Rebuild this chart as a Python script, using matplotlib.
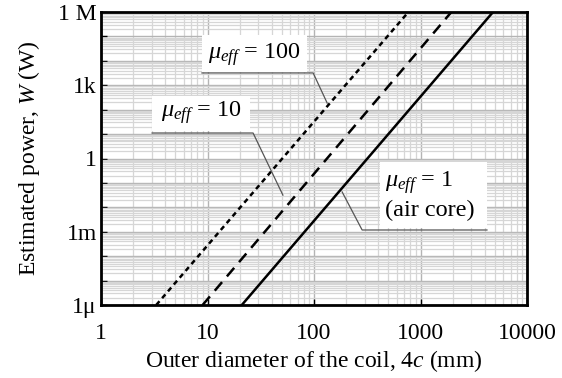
import numpy as np
import matplotlib
matplotlib.use("Agg")
import matplotlib.pyplot as plt
from matplotlib.patches import Rectangle
from matplotlib.ticker import LogLocator, FixedLocator, NullFormatter

plt.rcParams['font.family'] = ['Liberation Serif', 'DejaVu Serif']
plt.rcParams['mathtext.fontset'] = 'custom'
plt.rcParams['mathtext.rm'] = 'Liberation Serif'
plt.rcParams['mathtext.it'] = 'Liberation Serif:italic'

# power range spanned by each line (W)
power = [1e-6, 1e6]
# outer diameter (mm) where each line meets the bottom and top of the plot
d_air = [21, 4800]     # mu_eff = 1
d_mu10 = [9.0, 1950]   # mu_eff = 10
d_mu100 = [3.3, 770]   # mu_eff = 100

x_ticks = [1, 10, 100, 1000, 10000]
x_labels = ["1", "10", "100", "1000", "10000"]
y_labels = ["1\u03bc", "1m", "1", "1k", "1 M"]

fig = plt.figure(figsize=(5.62, 3.78), dpi=100)
ax = fig.add_axes([101/562, 1 - 305/378, 426/562, 293/378])

ax.set_xscale('log')
ax.set_yscale('log')
ax.set_xlim(1, 10000)
ax.set_ylim(1e-6, 1e6)

# grid: decades darker, sub-decades light
ax.xaxis.set_minor_locator(LogLocator(base=10, subs=np.arange(2, 10)))
ax.yaxis.set_minor_locator(LogLocator(base=10, subs=np.arange(2, 10), numticks=30))
ax.grid(which='major', color='#b4b4b4', lw=1.0)
ax.grid(which='minor', color='#d6d6d6', lw=0.9)
ax.set_axisbelow(True)

ax.plot(d_air, power, color='black', lw=1.8, zorder=3)
ax.plot(d_mu10, power, color='black', lw=1.8, dashes=(4.5, 3), zorder=3)
ax.plot(d_mu100, power, color='black', lw=1.8, dashes=(2, 1.6), zorder=3)

ax.set_xticks(x_ticks)
ax.set_xticklabels(x_labels)
ax.yaxis.set_major_locator(FixedLocator([10.0**k for k in range(-6, 7)]))
ax.set_yticklabels([y_labels[i // 3] if i % 3 == 0 else "" for i in range(13)])
ax.yaxis.set_minor_formatter(NullFormatter())
ax.xaxis.set_minor_formatter(NullFormatter())
ax.tick_params(which='major', direction='in', length=4, width=1, labelsize=17)
ax.tick_params(axis='x', pad=13)
ax.tick_params(axis='y', pad=3)
ax.tick_params(which='minor', length=0)

for s in ax.spines.values():
    s.set_linewidth(2)

ax.set_xlabel("Outer diameter of the coil, 4$c$ (mm)", fontsize=17, labelpad=3)
ax.set_ylabel("Estimated power, $W$ (W)", fontsize=17, labelpad=12)

lead = dict(color='#555555', lw=0.9, transform=ax.transAxes, zorder=4)


def label_box(x0, x1, y0, y1):
    ax.add_patch(Rectangle((x0, y0), x1 - x0, y1 - y0, transform=ax.transAxes,
                           fc='white', ec='none', zorder=4))


# mu_eff = 100
label_box(0.237, 0.484, 0.795, 0.921)
ax.text(0.36, 0.855, r"$\mu_{eff}$ = 100", transform=ax.transAxes, fontsize=17.5,
        ha='center', va='center', zorder=5)
ax.plot([0.237, 0.498, 0.531], [0.792, 0.792, 0.689], **lead)

# mu_eff = 10
label_box(0.120, 0.350, 0.594, 0.713)
ax.text(0.235, 0.655, r"$\mu_{eff}$ = 10", transform=ax.transAxes, fontsize=17.5,
        ha='center', va='center', zorder=5)
ax.plot([0.120, 0.357, 0.427], [0.587, 0.587, 0.375], **lead)

# mu_eff = 1 (air core)
label_box(0.655, 0.906, 0.263, 0.488)
ax.text(0.667, 0.418, r"$\mu_{eff}$ = 1", transform=ax.transAxes, fontsize=17.5,
        ha='left', va='center', zorder=5)
ax.text(0.667, 0.322, "(air core)", transform=ax.transAxes, fontsize=17.5,
        ha='left', va='center', zorder=5)
ax.plot([0.906, 0.613, 0.566], [0.256, 0.256, 0.386], **lead)

fig.savefig("out.png", dpi=100)
